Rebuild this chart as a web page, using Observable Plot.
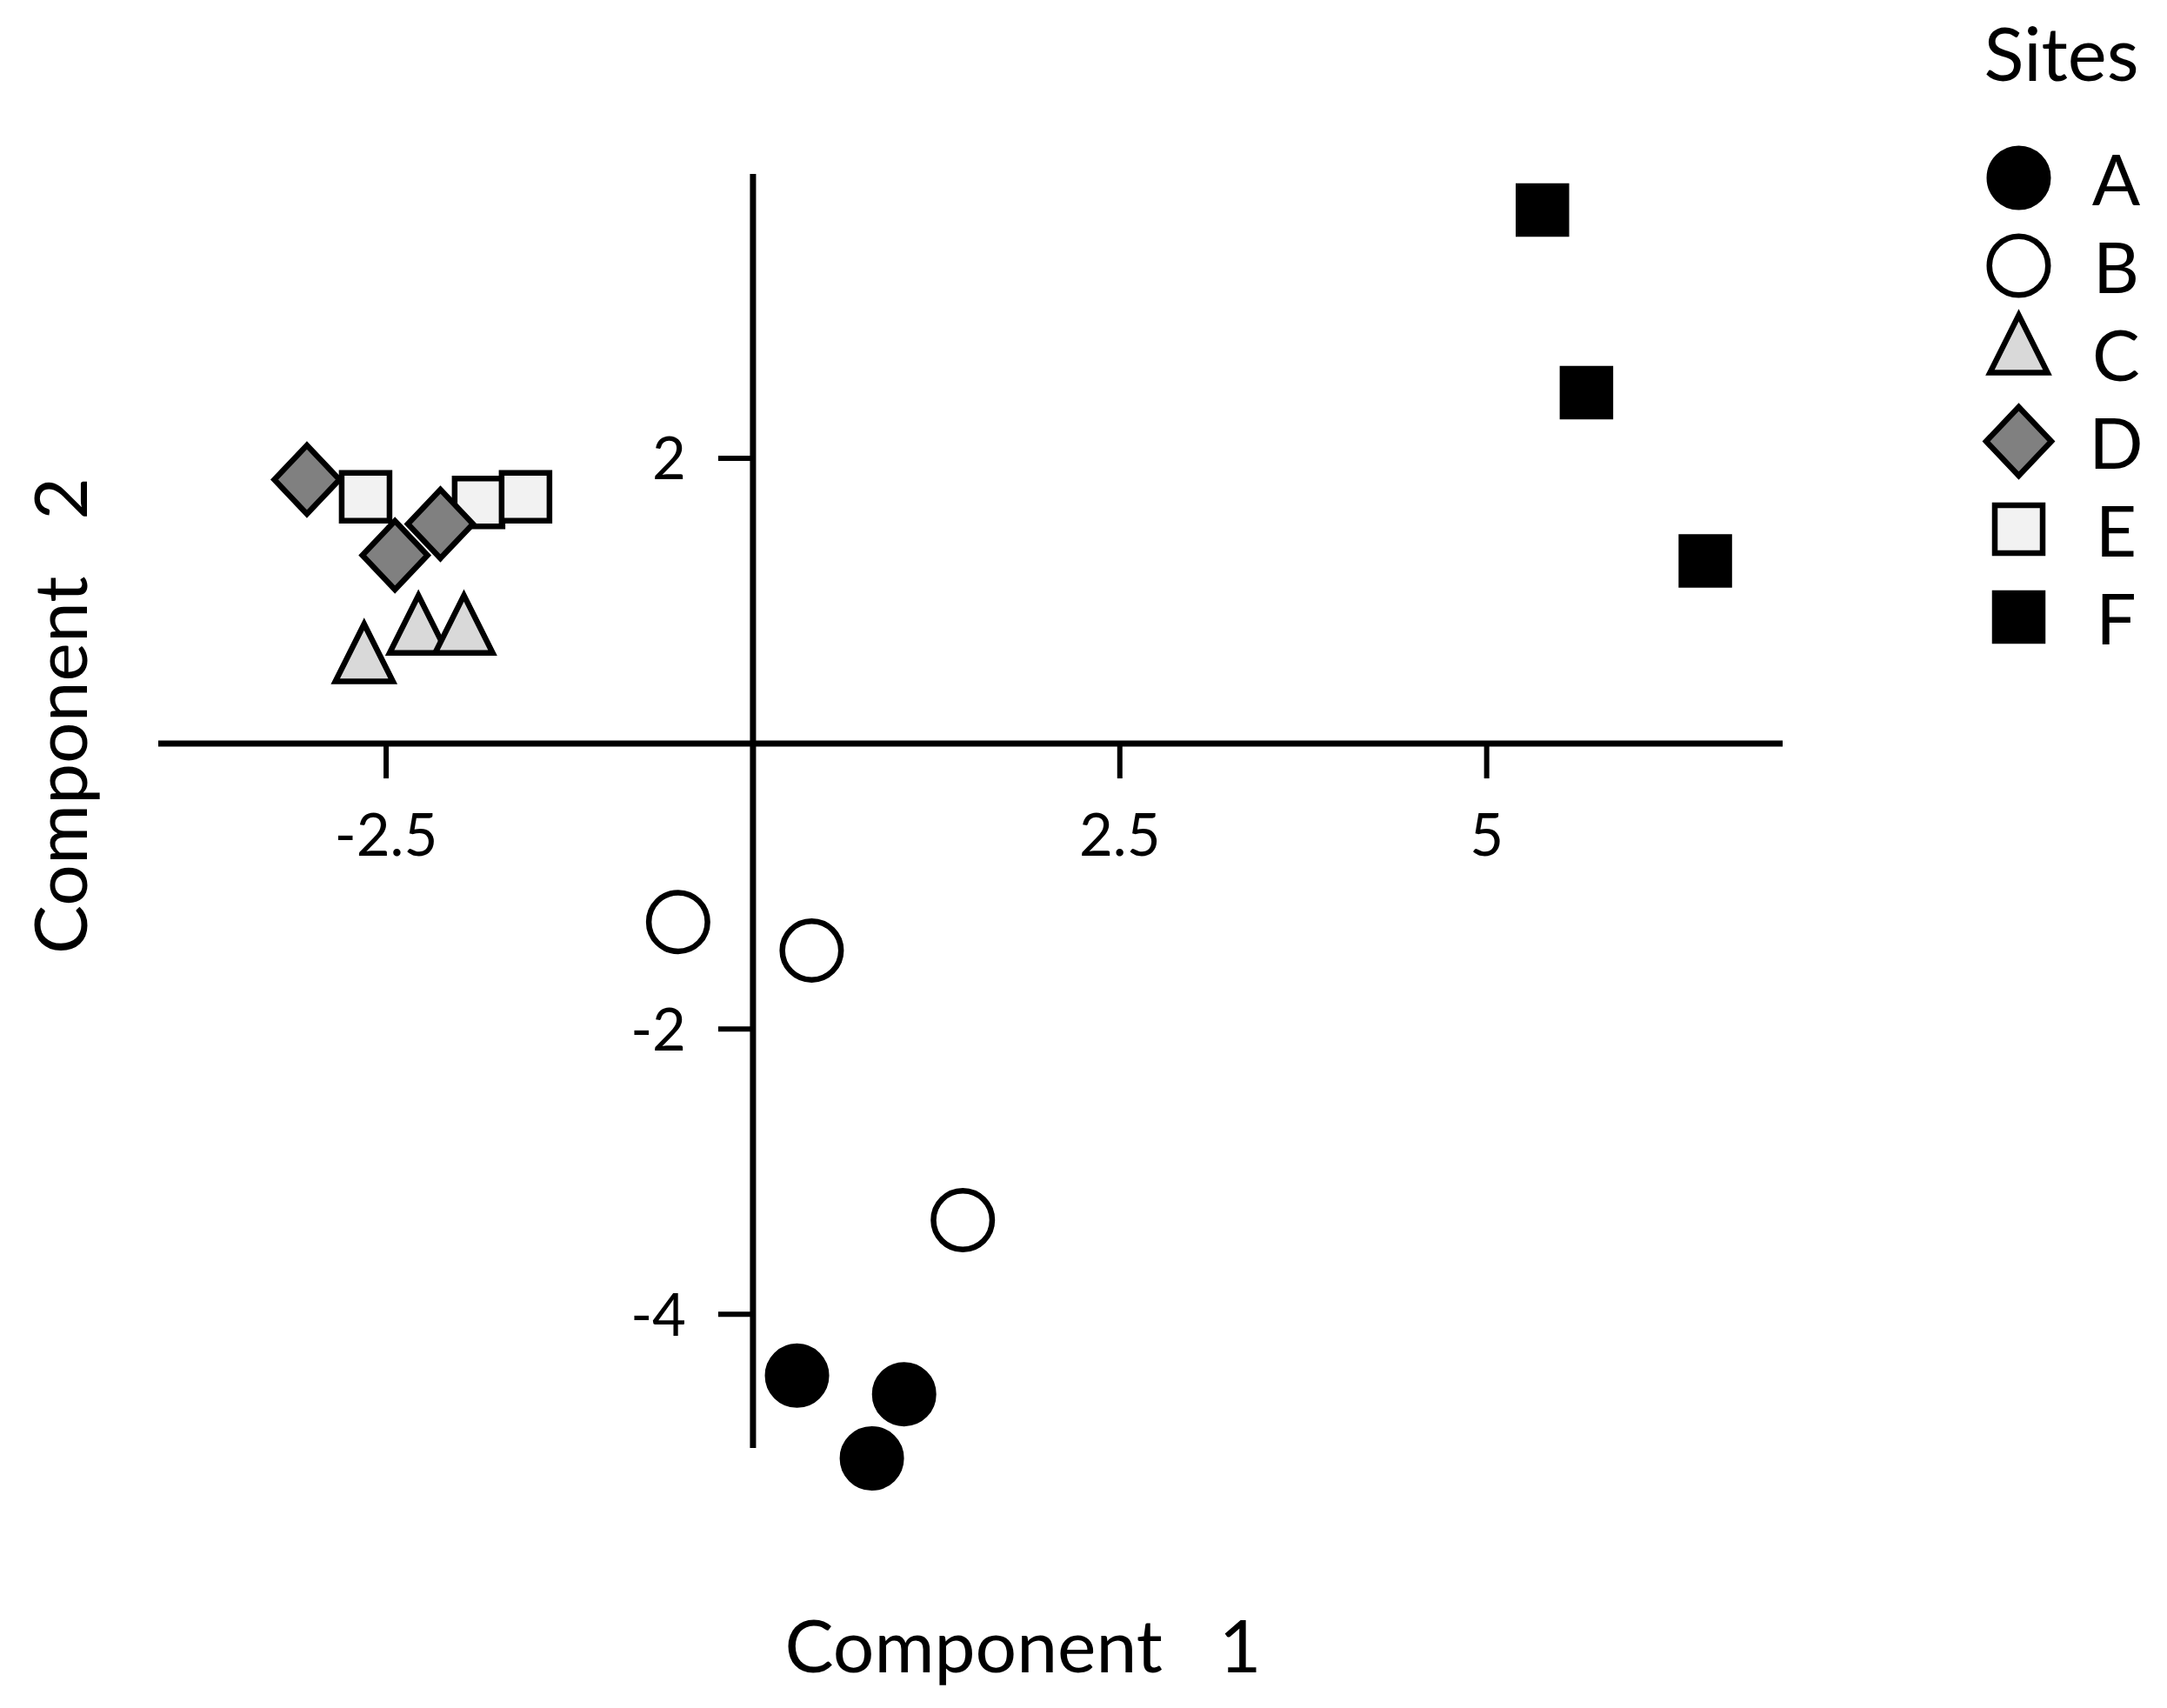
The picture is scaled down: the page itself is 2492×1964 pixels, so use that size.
<!DOCTYPE html>
<html><head><meta charset="utf-8">
<script src="https://cdn.jsdelivr.net/npm/d3@7"></script>
<script src="https://cdn.jsdelivr.net/npm/@observablehq/plot@0.6"></script>
<style>
html,body{margin:0;padding:0;background:#fff;}
#wrap{position:relative;width:2492px;height:1964px;background:#fff;}
#wrap svg text{white-space:pre;}
</style></head><body><div id="wrap"></div>
<script>
// ---- data ----
const sites = ["A", "B", "C", "D", "E", "F"];
const siteFills = ["#000000", "#ffffff", "#d9d9d9", "#808080", "#f2f2f2", "#000000"];

const comp1A = [0.30, 1.03, 0.81];
const comp2A = [-4.43, -4.56, -5.01];
const comp1B = [-0.51, 0.40, 1.43];
const comp2B = [-1.25, -1.45, -3.34];
const comp1C = [-2.65, -2.28, -1.97];
const comp2C = [0.57, 0.77, 0.77];
const comp1D = [-3.04, -2.44, -2.13];
const comp2D = [1.85, 1.32, 1.54];
const comp1E = [-2.64, -1.87, -1.55];
const comp2E = [1.73, 1.69, 1.73];
const comp1F = [5.38, 5.68, 6.49];
const comp2F = [3.74, 2.46, 1.28];

const xTicks = [-2.5, 2.5, 5];
const xTickLabels = ["-2.5", "2.5", "5"];
const yTicks = [2, -2, -4];
const yTickLabels = ["2", "-2", "-4"];
const xTitle = "Component  1";
const yTitle = "Component  2";
const legendTitle = "Sites";

// ---- symbols ----
const rad = (size) => Math.sqrt(size / Math.PI);
const triangleSym = {draw(ctx, size) { const r = rad(size), w = 1.96 * r, h = 1.96 * r;
  ctx.moveTo(0, -2 * h / 3); ctx.lineTo(w / 2, h / 3); ctx.lineTo(-w / 2, h / 3); ctx.closePath(); }};
const diamondSym = {draw(ctx, size) { const r = rad(size), a = 1.11 * r, b = 1.17 * r;
  ctx.moveTo(0, -b); ctx.lineTo(a, 0); ctx.lineTo(0, b); ctx.lineTo(-a, 0); ctx.closePath(); }};
const squareSym = {draw(ctx, size) { const r = rad(size), s = 0.815 * r;
  ctx.moveTo(-s, -s); ctx.lineTo(s, -s); ctx.lineTo(s, s); ctx.lineTo(-s, s); ctx.closePath(); }};
const tickDown = {draw(ctx, size) { const L = rad(size); ctx.moveTo(0, 0); ctx.lineTo(0, L); }};
const tickLeft = {draw(ctx, size) { const L = rad(size); ctx.moveTo(0, 0); ctx.lineTo(-L, 0); }};
const siteSymbols = [d3.symbolCircle, d3.symbolCircle, triangleSym, diamondSym, squareSym, squareSym];

// rows in drawing order (diamonds drawn over squares)
const series = {A: [comp1A, comp2A], B: [comp1B, comp2B], C: [comp1C, comp2C], D: [comp1D, comp2D], E: [comp1E, comp2E], F: [comp1F, comp2F]};
const drawOrder = ["A", "B", "C", "E", "D", "F"];
const rows = drawOrder.flatMap(s => series[s][0].map((v, i) => ({site: s, c1: v, c2: series[s][1][i]})));

const R = 33.75;
const SW = 6.5;

const main = Plot.plot({
  width: 2492, height: 1964,
  marginLeft: 182, marginRight: 442, marginTop: 200, marginBottom: 299,
  x: {domain: [-4.05, 7.02], axis: null},
  y: {domain: [-4.94, 3.99], axis: null},
  symbol: {domain: sites, range: siteSymbols},
  color: {type: "ordinal", domain: sites, range: siteFills},
  style: {fontFamily: "Lato", background: "#fff", overflow: "visible", color: "#000"},
  marks: [
    Plot.ruleY([0], {stroke: "#000", strokeWidth: 7}),
    Plot.ruleX([0], {stroke: "#000", strokeWidth: 7}),
    Plot.dot(xTicks, {x: d => d, y: 0, symbol: tickDown, r: 40, stroke: "#000", strokeWidth: 6, fill: "none"}),
    Plot.dot(yTicks, {x: 0, y: d => d, symbol: tickLeft, r: 40, stroke: "#000", strokeWidth: 6, fill: "none"}),
    Plot.text(xTicks, {x: d => d, y: 0, text: (d, i) => xTickLabels[i], dy: 107, fontSize: 67, fill: "#000"}),
    Plot.text(yTicks, {x: 0, y: d => d, text: (d, i) => yTickLabels[i], dx: -77, dy: 3, textAnchor: "end", fontSize: 67, fill: "#000"}),
    Plot.dot(rows, {x: "c1", y: "c2", symbol: "site", fill: "site", stroke: "#000", strokeWidth: SW, r: R}),
    Plot.text([xTitle], {frameAnchor: "bottom", text: d => d, dx: -214, dy: 257, textAnchor: "start", lineAnchor: "bottom", fontSize: 84, fill: "#000"}),
    Plot.text([yTitle], {frameAnchor: "left", text: d => d, rotate: -90, dx: -83, dy: 164, textAnchor: "start", lineAnchor: "bottom", fontSize: 84, fill: "#000"})
  ]
});
main.querySelectorAll("text").forEach(t => {
  if (t.textContent.startsWith("Component")) t.style.wordSpacing = "11px";
});

const legend = Plot.plot({
  width: 272, height: 800,
  marginLeft: 0, marginRight: 0, marginTop: 203, marginBottom: 91,
  x: {axis: null},
  y: {type: "point", domain: sites, padding: 0, axis: null},
  symbol: {domain: sites, range: siteSymbols},
  color: {type: "ordinal", domain: sites, range: siteFills},
  style: {fontFamily: "Lato", background: "transparent", overflow: "visible", color: "#000"},
  marks: [
    Plot.dot(sites, {y: d => d, frameAnchor: "left", dx: 101, symbol: d => d, fill: d => d, stroke: "#000", strokeWidth: SW, r: R}),
    Plot.text(sites, {y: d => d, frameAnchor: "left", dx: 213, dy: 5, text: d => d, textAnchor: "middle", fontSize: 82, fill: "#000"}),
    Plot.text([legendTitle], {frameAnchor: "top-left", dx: 150, dy: -111, text: d => d, textAnchor: "middle", lineAnchor: "bottom", fontSize: 85, fill: "#000"})
  ]
});
legend.style.position = "absolute";
legend.style.left = "2220px";
legend.style.top = "0px";

const wrap = document.getElementById("wrap");
wrap.appendChild(main);
wrap.appendChild(legend);
</script></body></html>
